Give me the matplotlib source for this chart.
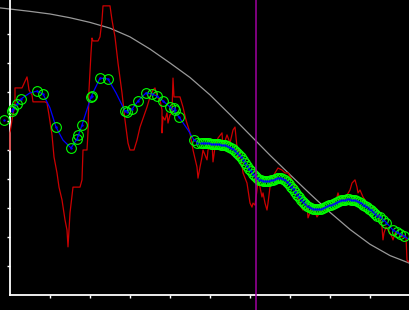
import numpy as np
import matplotlib
matplotlib.use('Agg')
import matplotlib.pyplot as plt

# raw signal (red)
raw_x = [0, 0, 2, 5, 5, 12, 17, 18, 19, 22, 23, 35, 37, 39, 42, 44, 47, 49, 52, 55,
         57, 58, 59, 60, 63, 70, 72, 73, 77, 78, 79, 81, 82, 83, 88, 90, 92, 93, 100, 102,
         105, 108, 112, 115, 118, 120, 124, 127, 130, 137, 140, 143, 145, 147, 150, 152, 152, 153, 155, 157,
         158, 160, 162, 163, 164, 170, 173, 176, 180, 183, 187, 188, 190, 192, 193, 197, 198, 202, 203, 205,
         208, 212, 213, 217, 220, 223, 225, 227, 228, 230, 233, 237, 240, 242, 243, 245, 247, 248, 250, 252,
         253, 255, 257, 258, 260, 262, 265, 268, 272, 275, 278, 282, 285, 288, 290, 293, 297, 298, 302, 305,
         307, 310, 313, 318, 323, 327, 328, 330, 333, 337, 340, 342, 345, 347, 348, 350, 353, 357, 360, 363,
         364, 368, 370, 372, 373, 374, 376, 378, 380, 382, 383, 385, 388, 392, 393, 396, 397, 398, 400]
raw_y = [50.0, 55.9, 60.3, 66.2, 71.4, 71.4, 75.2, 73.1, 70.7, 69.0, 66.6, 66.6, 66.2, 62.1, 55.2, 47.6, 42.1, 37.2, 32.8, 25.9,
         22.4, 16.6, 22.4, 28.3, 37.2, 37.2, 39.7, 50.0, 50.0, 56.2, 70.7, 83.4, 88.6, 87.6, 87.6, 89.0, 94.8, 99.7, 99.7, 94.8,
         89.0, 80.0, 69.7, 60.3, 52.4, 50.0, 50.0, 53.4, 57.9, 64.8, 68.3, 70.7, 71.4, 68.3, 67.2, 63.8, 55.9, 61.4, 60.3, 62.8,
         59.3, 62.1, 62.8, 74.8, 68.3, 68.3, 64.8, 60.3, 55.9, 50.0, 44.1, 40.3, 44.1, 47.6, 50.0, 46.6, 50.0, 52.8, 45.9, 51.0,
         54.1, 55.9, 51.0, 55.2, 52.4, 56.9, 57.9, 51.0, 46.6, 50.0, 42.1, 38.6, 31.7, 30.3, 31.7, 31.0, 36.2, 39.7, 37.2, 33.8,
         35.2, 31.7, 29.3, 31.7, 37.2, 39.7, 42.1, 43.8, 43.1, 42.1, 42.1, 39.7, 37.2, 33.8, 31.0, 29.3, 31.7, 26.6, 30.0, 28.6,
         26.9, 28.6, 29.3, 30.0, 31.0, 33.8, 35.2, 32.8, 33.8, 34.5, 36.2, 38.6, 39.7, 37.2, 35.2, 36.2, 33.8, 31.7, 30.0, 30.3,
         28.6, 28.3, 25.9, 23.4, 19.0, 21.4, 23.4, 22.4, 21.4, 20.0, 19.0, 21.4, 21.4, 20.0, 20.7, 20.0, 12.1, 11.4, 12.1]

# smoothed curve (blue)
smooth_x = [2, 11, 20, 27, 33, 40, 46, 53, 61, 67, 72, 81, 90, 98, 106, 115, 122, 128, 136, 142,
            147, 153, 160, 169, 178, 184, 190, 205, 218, 225, 232, 238, 245, 252, 260, 270, 278, 285, 292, 300,
            308, 316, 325, 333, 342, 350, 358, 366, 375, 383, 392, 400]
smooth_y = [63.8, 67.6, 69.7, 70.3, 69.3, 64.5, 57.9, 53.4, 50.7, 53.8, 58.6, 68.3, 74.8, 74.5, 69.7, 63.4, 64.1, 66.9, 69.7, 69.3,
            68.6, 66.9, 64.8, 61.4, 56.9, 53.4, 52.4, 52.1, 51.4, 50.0, 47.6, 44.1, 40.7, 39.3, 39.3, 40.3, 39.3, 36.6, 33.4, 31.0,
            29.3, 30.0, 31.0, 32.4, 32.8, 32.1, 30.7, 28.6, 25.5, 22.4, 20.7, 19.0]

# detected points (green circles)
pts_x = [-6, 2, 3, 7, 11, 27, 33, 46, 61, 67, 68, 72, 81, 82, 90, 98, 115, 117, 122, 128,
         136, 142, 147, 153, 160, 164, 165, 169, 184, 187, 191,
         193, 195, 197, 199, 201, 203, 205, 207, 209, 211, 213, 215, 217, 219, 221, 223, 225, 227, 229, 231,
         233, 235, 237, 239, 241, 243, 245, 247, 249, 251, 253, 255, 257, 259, 261, 263, 265, 267, 269, 271,
         273, 275, 277, 279, 281, 283, 285, 287, 289, 291, 293, 295, 297, 299, 301, 303, 305, 307, 309, 311,
         313, 315, 317, 319, 321, 323, 325, 327, 329, 331, 333, 335, 337, 339, 341, 343, 345, 347, 349, 351,
         353, 355, 357, 359, 361, 363, 365, 367, 370, 373, 376, 383, 387, 390, 394]
pts_y = [60.3, 63.4, 64.1, 65.9, 67.6, 70.3, 69.3, 57.9, 50.7, 53.8, 55.2, 58.6, 68.3, 68.6, 74.8, 74.5, 63.4, 63.1, 64.1, 66.9,
         69.7, 69.3, 68.6, 66.9, 64.8, 64.5, 63.8, 61.4, 53.4, 52.4, 52.4,
         52.4, 52.4, 52.3, 52.3, 52.2, 52.2, 52.1, 52.0, 51.9, 51.8, 51.7, 51.6, 51.4, 51.1, 50.7, 50.3, 49.7, 49.0, 48.3, 47.5,
         46.6, 45.6, 44.6, 43.6, 42.6, 41.7, 40.9, 40.3, 39.8, 39.5, 39.3, 39.3, 39.3, 39.4, 39.6, 39.8, 40.0, 40.2, 40.3, 40.2,
         40.0, 39.6, 39.0, 38.2, 37.3, 36.4, 35.5, 34.6, 33.7, 32.9, 32.1, 31.4, 30.8, 30.3, 29.9, 29.6, 29.5, 29.5, 29.6, 29.8,
         30.0, 30.3, 30.6, 30.9, 31.2, 31.5, 31.8, 32.1, 32.4, 32.6, 32.8, 32.9, 33.0, 33.0, 32.9, 32.8, 32.6, 32.3, 32.0, 31.6,
         31.2, 30.8, 30.3, 29.8, 29.2, 28.6, 27.9, 27.2, 26.9, 25.9, 24.8, 22.4, 21.7, 21.0, 20.3]

# reference envelope (gray)
env_x = [-10, 0, 20, 40, 60, 80, 100, 120, 140, 160, 180, 200, 220, 240, 260, 280, 300, 320, 340, 360, 380, 400]
env_y = [99.0, 98.6, 97.8, 96.9, 95.6, 94.0, 92.0, 89.0, 84.8, 80.0, 75.0, 69.0, 62.2, 55.2, 48.2, 41.5, 34.9, 28.5, 22.6, 17.5, 13.6, 10.9]

cursor_x = 246
x_ticks = [40, 80, 120, 160, 200, 240, 280, 320, 360, 400]
y_ticks = [10, 20, 30, 40, 50, 60, 70, 80, 90]

fig = plt.figure(figsize=(4.1, 3.1), dpi=100)
fig.patch.set_facecolor('black')
ax = fig.add_axes([0, 0, 1, 1])
ax.set_facecolor('black')

ax.plot(env_x, env_y, color='#999999', lw=0.9, zorder=2)
ax.plot(raw_x, raw_y, color='#cc0000', lw=0.9, zorder=3)
ax.plot(smooth_x, smooth_y, color='#0000ff', lw=0.9, zorder=4)
ax.plot(pts_x, pts_y, linestyle='none', marker='o', markersize=7,
        markerfacecolor='none', markeredgecolor='#00ff00', markeredgewidth=0.8, zorder=5)
ax.plot(pts_x, pts_y, linestyle='none', marker='.', markersize=1.5, color='#0000ff', zorder=6)
ax.axvline(cursor_x, color='#a000a0', lw=1.1, zorder=7)

ax.set_xlim(-10, 400)
ax.set_ylim(-5.17, 101.72)

for side in ['top', 'right']:
    ax.spines[side].set_visible(False)
ax.spines['left'].set_position(('data', 0))
ax.spines['bottom'].set_position(('data', 0))
ax.spines['left'].set_bounds(0, 101.72)
ax.spines['bottom'].set_bounds(0, 400)
for side in ['left', 'bottom']:
    ax.spines[side].set_color('white')
    ax.spines[side].set_linewidth(1.3)

ax.set_xticks(x_ticks)
ax.set_yticks(y_ticks)
ax.tick_params(colors='white', direction='out', length=2.5, width=1,
               labelbottom=False, labelleft=False)

fig.savefig('out.png', dpi=100, facecolor='black')
